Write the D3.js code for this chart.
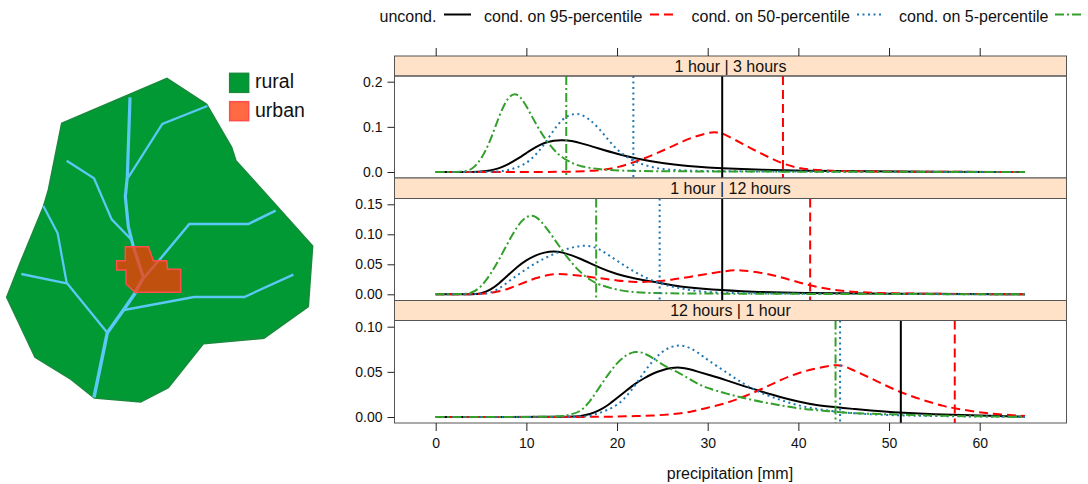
<!DOCTYPE html>
<html><head><meta charset="utf-8">
<script src="https://cdn.jsdelivr.net/npm/d3@7"></script>
<style>html,body{margin:0;padding:0;background:#fff}svg{display:block}text{font-family:"Liberation Sans",Arial,sans-serif;fill:#111}</style>
</head><body><svg id="c" width="1088" height="484"></svg>
<script>
// ---------- Curve data: [precipitation, density]
const p1Black=[[0,0],[4,0],[5,.001],[6,.003],[7,.008],[8,.017],[9,.029],[10,.042],[11,.055],[12,.065],[13,.07],[14,.071],[15,.069],[16,.064],[18,.052],[20,.04],[22,.03],[25,.019],[28,.013],[30,.01],[32,.008],[36,.005],[40,.003],[50,.001],[65,0]];
const p1Red=[[0,0],[14,0],[15,.001],[17,.002],[19,.006],[20,.01],[22,.022],[24,.038],[26,.056],[28,.075],[30,.087],[31,.089],[32,.083],[34,.06],[36,.04],[38,.02],[40,.008],[42,.004],[45,.001],[65,0]];
const p1Blue=[[0,0],[7,0],[8,.004],[9,.01],[10,.019],[11,.037],[12,.061],[13,.093],[14,.118],[15,.129],[16,.129],[17,.116],[18,.097],[19,.072],[20,.049],[21,.034],[22,.022],[24,.009],[26,.004],[30,.001],[65,0]];
const p1Green=[[0,0],[3,0],[4,.005],[5,.027],[6,.067],[7,.125],[8,.169],[9,.177],[10,.147],[11,.108],[12,.075],[13,.049],[14,.031],[15,.02],[16,.012],[18,.006],[20,.003],[25,.001],[65,0]];

const p2Black=[[0,0],[4,0],[5,.001],[6,.007],[7,.018],[8,.032],[9,.046],[10,.057],[11,.065],[12,.07],[13,.072],[14,.07],[15,.065],[16,.059],[17,.052],[18,.045],[20,.033],[22,.026],[24.7,.019],[26,.015],[28,.011],[30,.008],[35,.004],[40,.002],[50,.001],[65,0]];
const p2Red=[[0,0],[4,0],[5,.001],[6,.002],[7,.005],[8,.009],[9,.015],[10,.021],[11,.027],[12,.031],[13,.034],[14,.034],[16,.031],[18,.027],[20,.023],[22,.02],[24,.021],[26,.024],[28,.029],[30,.034],[32,.039],[33.5,.041],[36,.036],[38,.029],[40,.02],[42,.012],[44,.007],[46,.004],[50,.001],[65,0]];
const p2Blue=[[0,0],[5,0],[6,.002],[7,.009],[8,.021],[9,.032],[10,.042],[11,.052],[12,.06],[13,.067],[14,.073],[15,.078],[16,.081],[17,.081],[18,.076],[19,.066],[20,.056],[21,.046],[22,.037],[23,.029],[24,.022],[25,.017],[26,.013],[27,.01],[28,.007],[30,.003],[35,.001],[65,0]];
const p2Green=[[0,0],[3,0],[4,.002],[5,.012],[6,.032],[7,.058],[8,.087],[9,.114],[10,.131],[11,.132],[12,.115],[13,.094],[14,.072],[15,.052],[16,.036],[17,.024],[18,.016],[20,.007],[22,.003],[24,.002],[28,.001],[65,0]];

const p3Black=[[0,0],[15,0],[16,.001],[17,.003],[18,.007],[19,.013],[20,.021],[21,.029],[22,.037],[23,.043],[24,.0485],[25,.052],[26,.0545],[27,.055],[28,.053],[29,.05],[30,.047],[32,.041],[34,.034],[36,.028],[38,.022],[40,.017],[42,.013],[44,.011],[46,.009],[48,.007],[50,.0055],[55,.003],[60,.0015],[65,.0005]];
const p3Red=[[0,0],[18,0],[20,.0005],[22,.001],[24,.0015],[26,.003],[28,.005],[30,.0105],[32,.015],[34,.0225],[36,.031],[38,.041],[40,.049],[42,.054],[44,.058],[45,.057],[46,.052],[48,.043],[50,.033],[52,.0245],[54,.018],[56,.012],[57.3,.0095],[60,.005],[62,.003],[65,.001]];
const p3Blue=[[0,0],[16,0],[17,.001],[18,.004],[19,.008],[20,.013],[21,.022],[22,.035],[23,.05],[24,.063],[25,.073],[26,.078],[27,.08],[28,.077],[29,.071],[30,.063],[32,.05],[34,.036],[36,.026],[38,.019],[40,.0125],[42,.009],[44,.006],[46,.004],[50,.002],[55,.001],[65,0]];
const p3Green=[[0,0],[13,0],[14,.001],[15,.003],[16,.006],[17,.017],[18,.032],[19,.047],[20,.06],[21,.069],[22,.073],[23,.071],[24,.065],[25,.058],[26,.053],[27,.048],[28,.042],[29,.036],[30,.032],[32,.026],[34,.021],[36,.0165],[38,.013],[40,.0095],[42,.0075],[44,.006],[46,.004],[50,.003],[55,.0015],[60,.0007],[65,.0002]];

// Percentile markers, order: black, red, blue, green
const p1Marks=[31.6,38.3,21.8,14.4];
const p2Marks=[31.6,41.3,24.7,17.7];
const p3Marks=[51.3,57.25,44.6,44.1];

const panelTitles=["1 hour | 3 hours","1 hour | 12 hours","12 hours | 1 hour"];
const p1Ticks=[0,.1,.2], p2Ticks=[0,.05,.1,.15], p3Ticks=[0,.05,.1];
const xTicks=[0,10,20,30,40,50,60];
const legendLabels=["uncond.","cond. on 95-percentile","cond. on 50-percentile","cond. on 5-percentile"];
const seriesColors=["#000000","#ff0000","#1f78b4","#33a02c"];
const seriesDash=[null,"9 5","2 3.5","9 3 2 3"];

// ---------- Catchment map, in map units
const outline=[[501,55],[620,133],[695,262],[708,302],[938,558],[925,740],[792,835],[610,851],[505,983],[422,1026],[283,1014],[213,958],[105,892],[20,712],[60,610],[130,440],[145,390],[185,190]];
const urbanArea=[[376,560],[445,560],[460,602],[500,602],[503,628],[542,628],[542,697],[405,697],[378,672],[378,630],[350,630],[350,602],[376,602]];
const rivers=[
 {w:3.5,pts:[[282,1012],[322,818],[372,748],[405,700]]},
 {w:3.2,pts:[[405,700],[430,652],[400,560],[385,500],[376,410],[382,350],[390,112]]},
 {w:2.3,pts:[[385,352],[487,192],[622,138]]},
 {w:2.3,pts:[[200,302],[282,355],[335,478],[395,540]]},
 {w:2.3,pts:[[130,438],[173,520],[200,668],[322,818]]},
 {w:2.3,pts:[[64,642],[200,670]]},
 {w:2.3,pts:[[372,750],[582,711],[733,711],[880,644]]},
 {w:2.5,pts:[[405,695],[430,655],[478,600],[568,492],[745,492],[827,452]]}
];
const mapLegend=[["rural","#009933","#178a3c"],["urban","#ff6a42","#ff4d4d"]];

const svg=d3.select("#c");
// ---------- Map
const mx=d3.scaleLinear().domain([0,330]).range([0,110]);
const my=d3.scaleLinear().domain([0,330]).range([60,170]);
const ml=d3.line().x(d=>mx(d[0])).y(d=>my(d[1]));
const map=svg.append("g");
map.append("path").attr("d",ml(outline)+"Z").attr("fill","#009933").attr("stroke","#178a3c").attr("stroke-width",1.5);
map.selectAll("path.r").data(rivers).join("path").attr("class","r").attr("d",d=>ml(d.pts)).attr("fill","none").attr("stroke","#5bc8f5").attr("stroke-width",d=>d.w);
map.append("path").attr("d",ml(urbanArea)+"Z").attr("fill","#ff3803").attr("fill-opacity",.75).attr("stroke","#ff4d4d").attr("stroke-width",1.5);
mapLegend.forEach((d,i)=>{
  const y0=my(40+85*i);
  svg.append("rect").attr("x",mx(689)).attr("y",y0).attr("width",19).attr("height",19).attr("fill",d[1]).attr("stroke",d[2]).attr("stroke-width",1.5);
  svg.append("text").attr("x",255).attr("y",y0+15).attr("font-size",19.5).text(d[0]);
});

// ---------- Panels
const px0=394.5,px1=1066.5;
const x=d3.scaleLinear().domain([0,60]).range([435.7,979.7]);
const line=(ys)=>d3.line().x(d=>x(d[0])).y(d=>ys(d[1])).curve(d3.curveBasis);
const panels=[
 {strip:[56,76],body:[76,178],dom:[0,.2],rng:[172,81.7],ticks:p1Ticks,fmt:d3.format(".1f"),s:[p1Black,p1Red,p1Blue,p1Green],m:p1Marks},
 {strip:[178,198.5],body:[198.5,300.5],dom:[0,.15],rng:[294.3,204.3],ticks:p2Ticks,fmt:d3.format(".2f"),s:[p2Black,p2Red,p2Blue,p2Green],m:p2Marks},
 {strip:[300.5,320.5],body:[320.5,423],dom:[0,.1],rng:[417,326.7],ticks:p3Ticks,fmt:d3.format(".2f"),s:[p3Black,p3Red,p3Blue,p3Green],m:p3Marks}
];
const frame="#555";
panels.forEach((p,i)=>{
  const g=svg.append("g");
  const y=d3.scaleLinear().domain(p.dom).range(p.rng);
  g.append("rect").attr("x",px0).attr("y",p.strip[0]).attr("width",px1-px0).attr("height",p.strip[1]-p.strip[0]).attr("fill","#ffe2c8").attr("stroke",frame);
  g.append("text").attr("x",(px0+px1)/2).attr("y",p.strip[1]-4.5).attr("text-anchor","middle").attr("font-size",16).text(panelTitles[i]);
  p.s.forEach((s,k)=>{
    g.append("path").attr("d",line(y)(s)).attr("fill","none").attr("stroke",seriesColors[k]).attr("stroke-width",2).attr("stroke-dasharray",seriesDash[k]);
  });
  p.m.forEach((v,k)=>{
    g.append("line").attr("x1",x(v)).attr("x2",x(v)).attr("y1",p.body[0]).attr("y2",p.body[1]).attr("stroke",seriesColors[k]).attr("stroke-width",2).attr("stroke-dasharray",seriesDash[k]);
  });
  g.append("rect").attr("x",px0).attr("y",p.body[0]).attr("width",px1-px0).attr("height",p.body[1]-p.body[0]).attr("fill","none").attr("stroke",frame);
  const ax=g.append("g").attr("transform",`translate(${px0},0)`).call(d3.axisLeft(y).tickValues(p.ticks).tickFormat(p.fmt).tickSize(7).tickPadding(5));
  ax.select(".domain").remove();
  ax.selectAll("line").attr("stroke","#222");
  ax.selectAll("text").attr("font-size",14).attr("font-family",'"Liberation Sans"').attr("fill","#222");
});
const axB=svg.append("g").attr("transform","translate(0,423)").call(d3.axisBottom(x).tickValues(xTicks).tickSize(8).tickPadding(7));
axB.select(".domain").remove();
axB.selectAll("line").attr("stroke","#222");
axB.selectAll("text").attr("font-size",14).attr("font-family",'"Liberation Sans"').attr("fill","#222");
const axT=svg.append("g").attr("transform","translate(0,56)").call(d3.axisTop(x).tickValues(xTicks).tickSize(8).tickFormat(""));
axT.select(".domain").remove();
axT.selectAll("line").attr("stroke","#222");
svg.append("text").attr("x",730).attr("y",479).attr("text-anchor","middle").attr("font-size",16).text("precipitation [mm]");

// ---------- Legend
const legTextX=[379.5,484,691.5,899], legLineX=[444,650,857,1055];
legendLabels.forEach((t,i)=>{
  svg.append("text").attr("x",legTextX[i]).attr("y",22).attr("font-size",16).text(t);
  svg.append("line").attr("x1",legLineX[i]).attr("x2",legLineX[i]+27).attr("y1",14.5).attr("y2",14.5).attr("stroke",seriesColors[i]).attr("stroke-width",2).attr("stroke-dasharray",seriesDash[i]);
});
</script></body></html>
